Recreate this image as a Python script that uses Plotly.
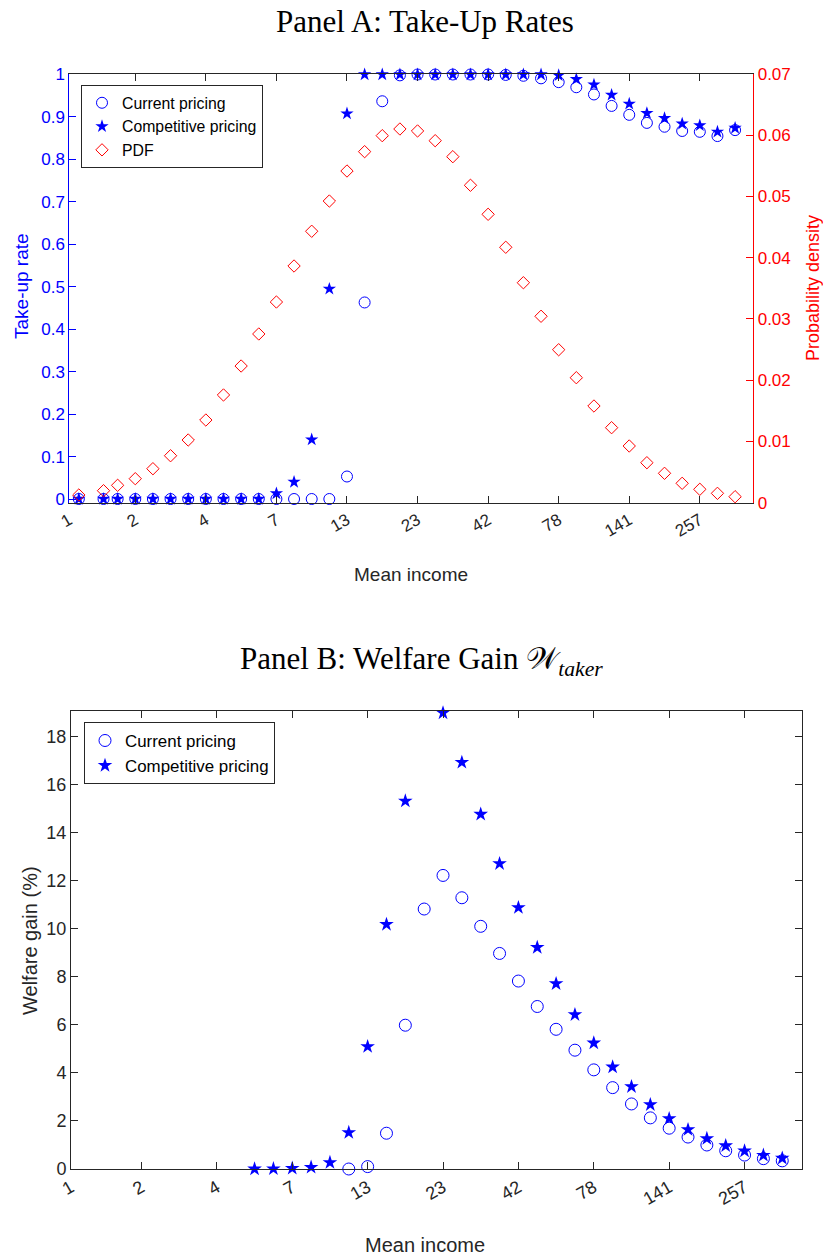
import plotly.graph_objects as go

# ---------------- data ----------------
# position of each income grid point along the (log) income axis, in tick steps
income_pos = [0.2, 0.55, 0.75, 1.0, 1.25, 1.5, 1.75, 2.0, 2.25, 2.5, 2.75, 3.0, 3.25,
              3.5, 3.75, 4.0, 4.25, 4.5, 4.75, 5.0, 5.25, 5.5, 5.75, 6.0, 6.25, 6.5,
              6.75, 7.0, 7.25, 7.5, 7.75, 8.0, 8.25, 8.5, 8.75, 9.0, 9.25, 9.5]
tick_pos = [0.065, 1, 2, 3, 4, 5, 6, 7, 8, 9]
tick_labels = ["1", "2", "4", "7", "13", "23", "42", "78", "141", "257"]

takeup_current = [0, 0, 0, 0, 0, 0, 0, 0, 0, 0, 0, 0, 0, 0, 0,
                  0.053, 0.463, 0.937, 0.998, 1.0, 1.0, 1.0, 1.0, 1.0, 0.999, 0.997,
                  0.991, 0.982, 0.970, 0.953, 0.926, 0.905, 0.886, 0.877, 0.867,
                  0.865, 0.855, 0.869]
takeup_competitive = [0, 0, 0, 0, 0, 0, 0, 0, 0, 0, 0,
                      0.013, 0.040, 0.140, 0.495, 0.908,
                      1.0, 1.0, 1.0, 1.0, 1.0, 1.0, 1.0, 1.0, 1.0, 1.0, 1.0,
                      0.998, 0.989, 0.976, 0.952, 0.931, 0.909, 0.897, 0.884,
                      0.880, 0.865, 0.874]
pdf = [0.00126, 0.00196, 0.00284, 0.00392, 0.00555, 0.00767, 0.01024, 0.01350,
       0.01759, 0.02232, 0.02755, 0.03277, 0.03865, 0.04432, 0.04926, 0.05416,
       0.05732, 0.05993, 0.06102, 0.06070, 0.05911, 0.05650, 0.05183, 0.04709,
       0.04171, 0.03592, 0.03044, 0.02498, 0.02041, 0.01579, 0.01225, 0.00926,
       0.00653, 0.00480, 0.00317, 0.00219, 0.00153, 0.00098]

welfare_current = [None] * 14 + [0.0, 0.10, 1.49, 5.99, 10.83, 12.23, 11.30, 10.11,
                                 8.98, 7.83, 6.77, 5.82, 4.95, 4.13, 3.39, 2.71,
                                 2.13, 1.70, 1.33, 1.00, 0.76, 0.58, 0.43, 0.34]
welfare_competitive = [None] * 9 + [0.0, 0.01, 0.03, 0.07, 0.27, 1.52, 5.10, 10.19,
                                    15.33, None, 19.0, 16.94, 14.78, 12.72, 10.89,
                                    9.23, 7.72, 6.43, 5.25, 4.25, 3.43, 2.68, 2.10,
                                    1.64, 1.27, 0.97, 0.75, 0.57, 0.45]

# ---------------- style ----------------
W, H = 823, 1257
BLUE = "#0000ff"
RED = "#ff0000"
AX = "#262626"
SANS = "Liberation Sans, Arial, sans-serif"
SERIF = "Liberation Serif, Times New Roman, serif"


def px_x(p):
    return p / W


def px_y(p):
    return (H - p) / H


fig = go.Figure()

# Panel A
fig.add_trace(go.Scatter(x=income_pos, y=takeup_current, mode="markers", name="Current pricing",
                         marker=dict(symbol="circle-open", size=11, color=BLUE, line=dict(width=1, color=BLUE)),
                         xaxis="x", yaxis="y", legend="legend", cliponaxis=False))
fig.add_trace(go.Scatter(x=income_pos, y=takeup_competitive, mode="markers", name="Competitive pricing",
                         marker=dict(symbol="star", size=10, color=BLUE, line=dict(width=0)),
                         xaxis="x", yaxis="y", legend="legend", cliponaxis=False))
fig.add_trace(go.Scatter(x=income_pos, y=pdf, mode="markers", name="PDF",
                         marker=dict(symbol="diamond-open", size=9.5, color=RED, line=dict(width=1, color=RED)),
                         xaxis="x", yaxis="y2", legend="legend", cliponaxis=False))

# Panel B
fig.add_trace(go.Scatter(x=income_pos, y=welfare_current, mode="markers", name="Current pricing",
                         marker=dict(symbol="circle-open", size=12, color=BLUE, line=dict(width=1, color=BLUE)),
                         xaxis="x2", yaxis="y3", legend="legend2", cliponaxis=False))
fig.add_trace(go.Scatter(x=income_pos, y=welfare_competitive, mode="markers", name="Competitive pricing",
                         marker=dict(symbol="star", size=11, color=BLUE, line=dict(width=0)),
                         xaxis="x2", yaxis="y3", legend="legend2", cliponaxis=False))

common_x = dict(tickmode="array", tickvals=tick_pos, ticktext=tick_labels, tickangle=-30,
                ticks="inside", ticklen=7, tickcolor=AX, showline=True, linecolor=AX, linewidth=1,
                mirror="ticks", showgrid=False, zeroline=False, range=[0.065, 9.758],
                automargin=False)

fig.update_layout(
    width=W, height=H, margin=dict(l=0, r=0, t=0, b=0, pad=0), autosize=False,
    paper_bgcolor="white", plot_bgcolor="white",
    font=dict(family=SANS, color=AX),
    xaxis=dict(domain=[px_x(69.3), px_x(753.3)], anchor="y",
               tickfont=dict(size=17, color=AX, family=SANS), **common_x),
    yaxis=dict(domain=[px_y(502.7), px_y(74)], range=[-0.0087, 1.0012], dtick=0.1, tick0=0,
               ticks="inside", ticklen=7, tickcolor=BLUE, showline=True, linecolor=BLUE,
               tickfont=dict(size=17, color=BLUE, family=SANS), showgrid=False, zeroline=False,
               automargin=False),
    yaxis2=dict(overlaying="y", side="right", anchor="x", range=[0, 0.07], dtick=0.01, tick0=0,
                ticks="inside", ticklen=7, tickcolor=RED, showline=True, linecolor=RED,
                tickfont=dict(size=17, color=RED, family=SANS), showgrid=False, zeroline=False,
                automargin=False),
    xaxis2=dict(domain=[px_x(71), px_x(801.7)], anchor="y3",
                tickfont=dict(size=18, color=AX, family=SANS), **common_x),
    yaxis3=dict(domain=[px_y(1169), px_y(711)], anchor="x2", range=[0, 19.08], dtick=2, tick0=0,
                ticks="inside", ticklen=7, tickcolor=AX, showline=True, linecolor=AX, mirror="ticks",
                tickfont=dict(size=18, color=AX, family=SANS), showgrid=False, zeroline=False,
                automargin=False),
    legend=dict(x=px_x(81), y=px_y(85), xanchor="left", yanchor="top", bgcolor="white",
                bordercolor=AX, borderwidth=1, font=dict(size=15.8, color="black", family=SANS),
                tracegroupgap=0),
    legend2=dict(x=px_x(84), y=px_y(722), xanchor="left", yanchor="top", bgcolor="white",
                 bordercolor=AX, borderwidth=1, font=dict(size=16.9, color="black", family=SANS),
                 tracegroupgap=0),
    showlegend=True,
)

ann = [
    dict(text="Panel A: Take-Up Rates", x=px_x(425), y=px_y(21), font=dict(family=SERIF, size=31, color="black")),
    dict(text="Panel B: Welfare Gain 𝒲<sub><i>taker</i></sub>", x=px_x(421), y=px_y(661),
         font=dict(family=SERIF, size=31, color="black")),
    dict(text="Take-up rate", x=px_x(22), y=px_y(286), textangle=-90, font=dict(size=19, color=BLUE, family=SANS)),
    dict(text="Probability density", x=px_x(813), y=px_y(288), textangle=-90, font=dict(size=18, color=RED, family=SANS)),
    dict(text="Mean income", x=px_x(411), y=px_y(575), font=dict(size=19, color=AX, family=SANS)),
    dict(text="Welfare gain (%)", x=px_x(30), y=px_y(941), textangle=-90, font=dict(size=20, color=AX, family=SANS)),
    dict(text="Mean income", x=px_x(425), y=px_y(1245), font=dict(size=20, color=AX, family=SANS)),
]
for a in ann:
    a.update(xref="paper", yref="paper", showarrow=False, xanchor="center", yanchor="middle")
fig.update_layout(annotations=ann)

fig.write_html("out.html")
